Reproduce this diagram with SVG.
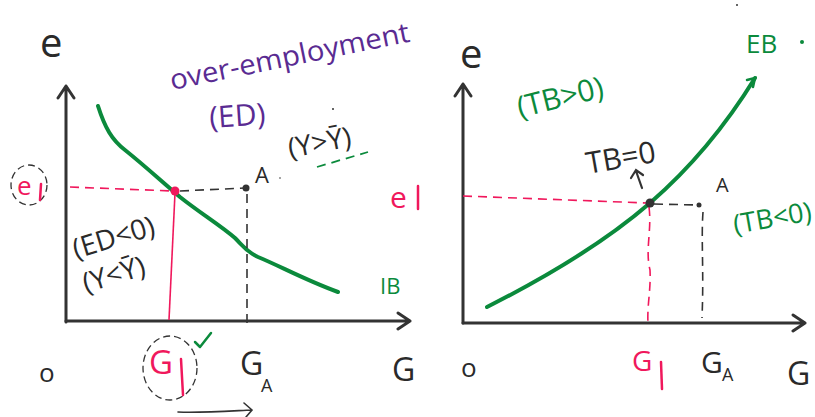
<svg xmlns="http://www.w3.org/2000/svg" width="815" height="417" viewBox="0 0 815 417">
<style>
.t{font-family:"Open Sans","Liberation Sans",sans-serif;}
.k{fill:#2a2a2a}
.g{fill:#0b8a3c}
.p{fill:#f0185c}
.v{fill:#5a2b92}
.ax{stroke:#333;stroke-width:3;fill:none;stroke-linecap:round;stroke-linejoin:round}
.cg{stroke:#0b8a3c;stroke-width:4;fill:none;stroke-linecap:round}
.dp{stroke:#f0185c;stroke-width:1.6;fill:none;stroke-dasharray:9 6}
.dk{stroke:#333;stroke-width:1.6;fill:none;stroke-dasharray:9 6}
.thin{stroke:#333;stroke-width:1.3;fill:none;stroke-dasharray:7 4}
</style>
<rect width="815" height="417" fill="#fff"/>

<!-- LEFT PANEL -->
<g id="left-axes">
<path class="ax" d="M66,322 V86 M58,98 L66,86 L74,98"/>
<path class="ax" d="M66,321 H410 M398,313 L410,321 L398,329"/>
<text class="t k" x="40" y="57" font-size="40">e</text>
<text class="t k" x="39" y="382" font-size="26">o</text>
<text class="t k" x="392" y="381" font-size="32">G</text>
</g>
<g id="IB-curve">
<path class="cg" d="M98,106 C105,128 112,140 125,150 C145,166 160,180 180,197 C200,213 220,225 235,238 C243,246 247,252 258,257 C280,266 305,280 338,292"/>
<text class="t g" x="380" y="294" font-size="22">IB</text>
</g>
<g id="connectors-left">
<path class="dp" d="M70,187 L173,191"/>
<path class="dk" d="M180,191 L245,188"/>
<path d="M175,193 L169,320" stroke="#f0185c" stroke-width="1.6" fill="none"/>
<path class="dk" d="M247,194 L247,327"/>
<path d="M178,412 C200,413 230,411 252,410 M244,403 L252,410 L246,417" stroke="#333" stroke-width="1.6" fill="none" stroke-linecap="round"/>
</g>
<g id="point-E1">
<circle cx="175" cy="191" r="4.5" fill="#f0185c"/>
</g>
<g id="point-A-left">
<circle cx="246" cy="188" r="3.5" fill="#333"/>
<text class="t k" x="255" y="183" font-size="22">A</text>
<circle cx="280" cy="178" r="0.8" fill="#333"/>
</g>
<g id="label-e1-left">
<ellipse cx="29" cy="185" rx="18" ry="20" class="thin"/>
<text class="t p" x="17" y="195" font-size="26">e</text>
<path d="M41,184 L40,200" stroke="#f0185c" stroke-width="2.5" stroke-linecap="round"/>
</g>
<g id="label-overemployment">
<text class="t v" x="172" y="90" font-size="28" transform="rotate(-11.5 172 90)" textLength="244" lengthAdjust="spacingAndGlyphs">over-employment</text>
<text class="t v" x="210" y="128" font-size="30" transform="rotate(-4 210 128)">(ED)</text>
<text class="t k" x="290" y="158" font-size="28" transform="rotate(-11 290 158)">(Y&gt;Ȳ)</text>
<circle cx="333" cy="109" r="1" fill="#333"/>
<path d="M317,167 L368,152" stroke="#0b8a3c" stroke-width="1.8" stroke-dasharray="9 6"/>
</g>
<g id="label-ED-neg">
<text class="t k" x="76" y="259" font-size="28" transform="rotate(-17 76 259)">(ED&lt;0)</text>
<text class="t k" x="86" y="293" font-size="28" transform="rotate(-17 86 293)">(Y&lt;Ȳ)</text>
</g>
<g id="label-G1-left">
<ellipse cx="170" cy="368" rx="27" ry="32" class="thin"/>
<text class="t p" x="149" y="374" font-size="33">G</text>
<path d="M181,359 L183,395" stroke="#f0185c" stroke-width="2.5" stroke-linecap="round"/>
<path d="M195,342 L200,347 L211,333" stroke="#0b8a3c" stroke-width="2.5" fill="none" stroke-linecap="round" stroke-linejoin="round"/>
</g>
<g id="label-GA-left">
<text class="t k" x="240" y="375" font-size="32">G</text>
<text class="t k" x="261" y="392" font-size="18">A</text>
</g>

<!-- RIGHT PANEL -->
<g id="right-axes">
<path class="ax" d="M463,323 V84 M455,96 L463,84 L471,96"/>
<path class="ax" d="M463,323 H805 M793,315 L805,323 L793,331"/>
<text class="t k" x="460" y="68" font-size="40">e</text>
<text class="t k" x="461" y="377" font-size="26">o</text>
<text class="t k" x="787" y="385" font-size="32">G</text>
</g>
<g id="EB-curve">
<path class="cg" d="M487,307 Q590,255 650,203 T755,78"/>
<path d="M747,80 L755,78 L753,87" stroke="#0b8a3c" stroke-width="2.5" fill="none" stroke-linecap="round"/>
<text class="t g" x="746" y="53" font-size="26">EB</text>
<circle cx="802" cy="42" r="2" fill="#0b8a3c"/>
</g>
<g id="connectors-right">
<path class="dp" d="M463,196 L647,203"/>
<path class="dk" d="M654,204 L698,205"/>
<path class="dp" d="M649,207 C652,230 645,250 650,270 C651,290 647,305 648,323"/>
<path class="dk" d="M703,212 C701,240 704,270 702,318"/>
<path d="M642,188 L636,171 M631,178 L636,170 L643,175" stroke="#333" stroke-width="2.2" fill="none" stroke-linecap="round"/>
</g>
<g id="point-E1-right">
<circle cx="650" cy="203" r="4.5" fill="#333"/>
</g>
<g id="point-A-right">
<circle cx="699" cy="205" r="2.5" fill="#333"/>
<text class="t k" x="716" y="192" font-size="20">A</text>
</g>
<g id="label-e1-right">
<text class="t p" x="390" y="208" font-size="30">e</text>
<path d="M418,186 L418,209" stroke="#f0185c" stroke-width="2.5" stroke-linecap="round"/>
</g>
<g id="label-TB">
<text class="t g" x="520" y="118" font-size="30" transform="rotate(-14 520 118)">(TB&gt;0)</text>
<text class="t k" x="588" y="174" font-size="30" transform="rotate(-10 588 174)">TB=0</text>
<text class="t g" x="735" y="234" font-size="27" transform="rotate(-10 735 234)">(TB&lt;0)</text>
</g>
<g id="label-G1-right">
<text class="t p" x="632" y="371" font-size="28">G</text>
<path d="M661,362 L662,389" stroke="#f0185c" stroke-width="2.5" stroke-linecap="round"/>
</g>
<g id="label-GA-right">
<text class="t k" x="701" y="373" font-size="30">G</text>
<text class="t k" x="722" y="381" font-size="18">A</text>
</g>
<circle cx="737" cy="5" r="1" fill="#333"/>
</svg>
